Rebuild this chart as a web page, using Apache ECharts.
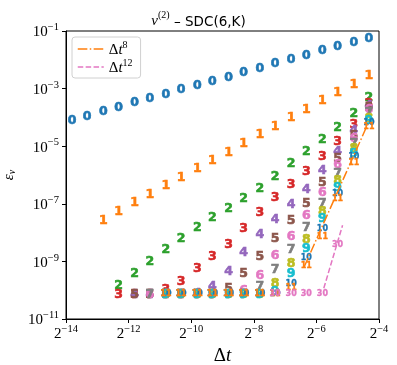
<!DOCTYPE html>
<html>
<head>
<meta charset="utf-8">
<script src="https://cdn.jsdelivr.net/npm/echarts@6/dist/echarts.min.js"></script>
<style>
  html, body { margin: 0; padding: 0; background: #fff; }
  #chart { width: 397px; height: 365px; }
</style>
</head>
<body>
<div id="chart"></div>
<script>
// number of time steps, dt = 1/N (smallest dt first)
const nSteps = [14336, 10240, 7168, 5120, 3584, 2560, 1792, 1280, 896, 640, 448, 320, 224, 160, 112, 80, 56, 40, 28, 20];

// error per K (null = not computed)
const err0 = [7.6e-5, 1.05e-4, 1.57e-4, 2.23e-4, 3.22e-4, 4.58e-4, 6.3e-4, 9.4e-4, 1.30e-3, 1.79e-3, 2.46e-3, 3.56e-3, 5.06e-3, 7.13e-3, 1.00e-2, 1.38e-2, 2.02e-2, 2.78e-2, 4.05e-2, 5.57e-2];
const err1 = [null, null, 2.55e-8, 5.12e-8, 1.05e-7, 2.04e-7, 4.09e-7, 8.2e-7, 1.64e-6, 3.10e-6, 6.08e-6, 1.25e-5, 2.49e-5, 4.72e-5, 9.7e-5, 1.90e-4, 3.69e-4, 7.16e-4, 1.40e-3, 2.79e-3];
const err2 = [null, null, null, 1.48e-10, 3.79e-10, 9.9e-10, 2.58e-9, 6.24e-9, 1.50e-8, 3.24e-8, 6.87e-8, 1.45e-7, 3.22e-7, 8.6e-7, 2.38e-6, 6.22e-6, 1.63e-5, 4.43e-5, 1.33e-4, 4.88e-4];
const err3 = [null, null, null, 6.7e-11, 7.2e-11, 7.1e-11, 1.05e-10, 2.04e-10, 5.47e-10, 1.43e-9, 3.89e-9, 1.36e-8, 4.72e-8, 1.57e-7, 4.44e-7, 1.29e-6, 4.34e-6, 1.42e-5, 5.62e-5, 2.90e-4];
const err4 = [null, null, null, null, 7.2e-11, 7.2e-11, 7.1e-11, 7.2e-11, 7.8e-11, 1.29e-10, 4.30e-10, 2.03e-9, 8.6e-9, 2.87e-8, 9.5e-8, 3.15e-7, 1.36e-6, 6.38e-6, 3.43e-5, 2.47e-4];
const err5 = [null, null, null, null, 7.2e-11, 7.2e-11, 7.1e-11, 7.2e-11, 7.2e-11, 7.2e-11, 1.08e-10, 3.58e-10, 1.48e-9, 6.24e-9, 2.55e-8, 1.03e-7, 5.21e-7, 3.56e-6, 2.33e-5, 2.11e-4];
const err6 = [null, null, null, null, null, 7.2e-11, 7.1e-11, 7.2e-11, 7.2e-11, 7.2e-11, 7.2e-11, 9.9e-11, 3.23e-10, 1.54e-9, 7.08e-9, 3.72e-8, 2.34e-7, 2.20e-6, 1.76e-5, 1.80e-4];
const err7 = [null, null, null, null, null, 7.2e-11, 7.1e-11, 7.2e-11, 7.2e-11, 7.2e-11, 7.2e-11, 7.2e-11, 1.34e-10, 5.05e-10, 2.50e-9, 1.42e-8, 1.03e-7, 1.13e-6, 1.23e-5, 1.41e-4];
const err8 = [null, null, null, null, null, null, 7.2e-11, 7.2e-11, 7.2e-11, 7.2e-11, 7.2e-11, 7.2e-11, 7.2e-11, 1.70e-10, 8.4e-10, 5.44e-9, 5.24e-8, 6.26e-7, 7.92e-6, 9.1e-5];
const err9 = [null, null, null, null, null, null, 7.2e-11, 7.2e-11, 7.2e-11, 7.2e-11, 7.2e-11, 7.2e-11, 7.2e-11, 8.5e-11, 3.66e-10, 2.65e-9, 2.99e-8, 3.69e-7, 5.31e-6, 7.74e-5];
const err10 = [null, null, null, null, null, null, 7.2e-11, 7.2e-11, 7.2e-11, 7.2e-11, 7.2e-11, 7.2e-11, 7.2e-11, 7.2e-11, 1.70e-10, 1.29e-9, 1.39e-8, 2.29e-7, 4.17e-6, 6.6e-5];
const err11 = [null, null, null, null, null, null, 7.2e-11, 7.2e-11, 7.2e-11, 7.2e-11, 7.2e-11, 7.2e-11, 7.2e-11, 7.2e-11, 1.17e-10, 6.79e-10, 7.31e-9, 1.48e-7, 2.64e-6, 4.72e-5];
const err30 = [null, null, null, null, null, null, null, null, null, null, null, null, null, 7.4e-11, 7.4e-11, 7.4e-11, 7.4e-11, 3.79e-9, null, null];

const sweepLabels = ['0', '1', '2', '3', '4', '5', '6', '7', '8', '9', '10', '11', '30'];
const sweepErrors = [err0, err1, err2, err3, err4, err5, err6, err7, err8, err9, err10, err11, err30];
const sweepColors = ['#1f77b4', '#ff7f0e', '#2ca02c', '#d62728', '#9467bd', '#8c564b', '#e377c2',
  '#7f7f7f', '#bcbd22', '#17becf', '#1f77b4', '#ff7f0e', '#e377c2'];

// reference slopes
const ref8Dt = [0.0119, 0.05];
const ref8Err = [6.4e-10, 7.2e-5];
const ref12Dt = [0.0184, 0.0279];
const ref12Err = [1.17e-10, 1.8e-8];

const xTicks = [-14, -12, -10, -8, -6, -4];
const yTicks = [-11, -9, -7, -5, -3, -1];

const serif = 'Liberation Serif';
const dashDot = [9.6, 2.4, 1.5, 2.4];
const dashed = [5.5, 2.4];

let series = sweepLabels.map((lab, k) => ({
  type: 'scatter',
  name: 'K' + lab,
  data: nSteps.map((n, j) => sweepErrors[k][j] == null ? null : [1 / n, sweepErrors[k][j]]).filter(d => d),
  symbol: 'circle',
  symbolSize: 1,
  itemStyle: { color: 'rgba(0,0,0,0)', opacity: 1 },
  label: {
    show: true,
    position: 'inside',
    formatter: lab,
    color: sweepColors[k],
    fontFamily: 'DejaVu Sans',
    fontWeight: 'bold',
    fontSize: lab.length > 1 ? 8 : 12.5,
    textBorderColor: sweepColors[k],
    textBorderWidth: lab.length > 1 ? 0.3 : 0.6
  },
  silent: true
}));

series.push({
  type: 'line', name: 'd8',
  data: ref8Dt.map((d, i) => [d, ref8Err[i]]),
  symbol: 'none',
  itemStyle: { color: '#ff7f0e' },
  lineStyle: { color: '#ff7f0e', width: 1.5, type: dashDot },
  silent: true, z: 3
});
series.push({
  type: 'line', name: 'd12',
  data: ref12Dt.map((d, i) => [d, ref12Err[i]]),
  symbol: 'none',
  itemStyle: { color: '#e377c2' },
  lineStyle: { color: '#e377c2', width: 1.5, type: dashed },
  silent: true, z: 3
});

const supRich = {
  b: { fontFamily: serif, fontSize: 15, color: '#000', lineHeight: 18, verticalAlign: 'bottom' },
  s: { fontFamily: serif, fontSize: 10.5, color: '#000', lineHeight: 10, verticalAlign: 'top' }
};

let chart = echarts.init(document.getElementById('chart'));
chart.setOption({
  animation: false,
  title: {
    text: '{n|ν}{p|(2)}{r| – SDC(6,K)}',
    left: 'center',
    top: 5,
    textStyle: {
      fontWeight: 'normal',
      rich: {
        n: { fontFamily: serif, fontStyle: 'italic', fontWeight: 'normal', fontSize: 15, color: '#000', lineHeight: 19, verticalAlign: 'bottom' },
        p: { fontFamily: serif, fontWeight: 'normal', fontSize: 10, color: '#000', lineHeight: 10, verticalAlign: 'top' },
        r: { fontFamily: 'DejaVu Sans', fontWeight: 'normal', fontSize: 13.5, color: '#000', lineHeight: 19, verticalAlign: 'bottom' }
      }
    }
  },
  grid: {
    left: 66, right: 18, top: 31, bottom: 46,
    outerBoundsMode: 'none',
    containLabel: false,
    show: true, borderColor: '#000', borderWidth: 1
  },
  legend: {
    data: [
      { name: 'd8', itemStyle: { opacity: 0 }, lineStyle: { color: '#ff7f0e', width: 1.5, type: dashDot } },
      { name: 'd12', itemStyle: { opacity: 0 }, lineStyle: { color: '#e377c2', width: 1.5, type: dashed } }
    ],
    orient: 'vertical',
    left: 72, top: 37,
    itemWidth: 26, itemHeight: 14, itemGap: 0,
    padding: [3, 8, 2, 5],
    borderColor: '#d0d0d0', borderWidth: 1, borderRadius: 3,
    backgroundColor: 'rgba(255,255,255,0.8)',
    formatter: name => '{d|Δ}{t|t}{s|' + name.slice(1) + '}',
    textStyle: {
      rich: {
        d: { fontFamily: serif, fontSize: 15, color: '#000', lineHeight: 18, verticalAlign: 'bottom' },
        t: { fontFamily: serif, fontStyle: 'italic', fontSize: 15, color: '#000', lineHeight: 18, verticalAlign: 'bottom' },
        s: { fontFamily: serif, fontSize: 10, color: '#000', lineHeight: 10, verticalAlign: 'top' }
      }
    }
  },
  xAxis: {
    type: 'log',
    logBase: 2,
    min: Math.pow(2, xTicks[0]),
    max: Math.pow(2, xTicks[xTicks.length - 1]),
    name: '{d|Δ}{t|t}',
    nameLocation: 'middle',
    nameGap: 19,
    nameTextStyle: {
      rich: {
        d: { fontFamily: serif, fontSize: 19, color: '#000' },
        t: { fontFamily: serif, fontStyle: 'italic', fontSize: 19, color: '#000' }
      }
    },
    splitLine: { show: false },
    axisLine: { lineStyle: { color: '#000', width: 1 } },
    axisTick: { length: 4, lineStyle: { color: '#000' }, customValues: xTicks.map(e => Math.pow(2, e)) },
    axisLabel: {
      customValues: xTicks.map(e => Math.pow(2, e)),
      margin: 5,
      formatter: v => '{b|2}{s|−' + (-Math.round(Math.log2(v))) + '}',
      rich: supRich
    }
  },
  yAxis: {
    type: 'log',
    logBase: 10,
    min: Math.pow(10, yTicks[0]),
    max: Math.pow(10, yTicks[yTicks.length - 1]),
    name: '{e|ε}{v|v}',
    nameLocation: 'middle',
    nameRotate: 90,
    nameGap: 46,
    nameTextStyle: {
      rich: {
        e: { fontFamily: serif, fontStyle: 'italic', fontSize: 15, color: '#000', lineHeight: 16, verticalAlign: 'top' },
        v: { fontFamily: serif, fontStyle: 'italic', fontSize: 10, color: '#000', lineHeight: 16, verticalAlign: 'bottom' }
      }
    },
    splitLine: { show: false },
    axisLine: { lineStyle: { color: '#000', width: 1 } },
    axisTick: { length: 4, lineStyle: { color: '#000' }, customValues: yTicks.map(e => Math.pow(10, e)) },
    axisLabel: {
      customValues: yTicks.map(e => Math.pow(10, e)),
      margin: 7,
      formatter: v => '{b|10}{s|−' + (-Math.round(Math.log10(v))) + '}',
      rich: supRich
    }
  },
  series: series
});
</script>
</body>
</html>
